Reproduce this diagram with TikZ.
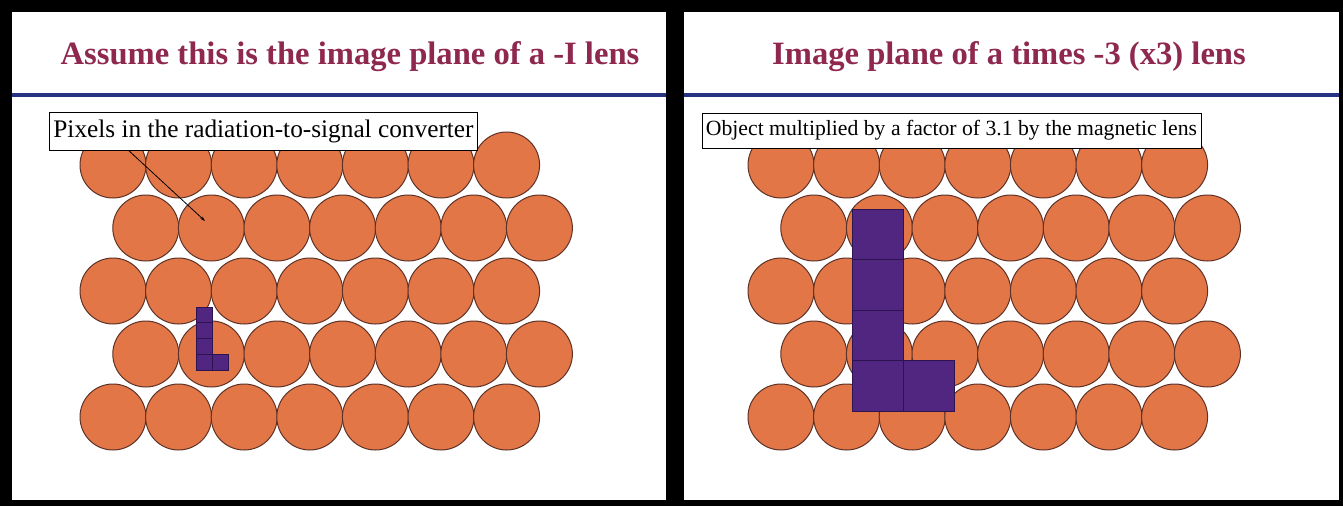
\documentclass[tikz,border=0pt]{standalone}
\usepackage{fontspec}
\setmainfont{Liberation Serif}
\usetikzlibrary{arrows.meta}
\definecolor{titlered}{RGB}{142,40,78}
\definecolor{rulecol}{RGB}{40,50,130}
\definecolor{pixfill}{RGB}{226,118,70}
\definecolor{pixedge}{RGB}{95,50,40}
\definecolor{lfill}{RGB}{80,38,128}
\definecolor{ledge}{RGB}{45,20,80}
\tikzset{
  pixel/.style={circle, draw=pixedge, fill=pixfill, line width=1pt, minimum size=66pt, inner sep=0pt},
  titletext/.style={text=titlered, font=\fontsize{32.6}{36}\selectfont\bfseries, inner sep=0pt},
  labelbox/.style={draw=black, fill=white, line width=0.8pt, inner xsep=4pt, inner ysep=0pt, align=center},
  lsq/.style={draw=ledge, fill=lfill, line width=0.7pt},
  bluerule/.style={draw=rulecol, line width=3.4pt}
}
\begin{document}
\begin{tikzpicture}[x=1pt,y=-1pt]
\useasboundingbox (0,0) rectangle (1343,506);
\fill[black] (0,0) rectangle (1343,506);
\fill[white] (12,12) rectangle (666,500);
\fill[white] (684,12) rectangle (1339,500);
% titles
\node[titletext] (t1) at (350,57) {Assume this is the image plane of a -I lens};
\node[titletext] (t2) at (1009,57) {Image plane of a times -3 (x3) lens};
\draw[bluerule] (12,95) -- (666,95);
\draw[bluerule] (684,95) -- (1339,95);
% pixels
\foreach \ox/\nm in {113/L,781/R}{
  \foreach \r/\yy/\sh in {1/165/0,2/228/1,3/291/0,4/354/1,5/417/0}{
    \foreach \k in {0,...,6}{
      \node[pixel] (p\nm\r\k) at ({\ox+\sh*32.8+\k*65.6},\yy) {};
    }
  }
}
% left L
\foreach \j in {0,...,3}{
  \draw[lsq] (196,{307+\j*15.75}) rectangle (212,{307+(\j+1)*15.75});
}
\draw[lsq] (212,354.25) rectangle (228,370);
% right L
\foreach \j in {0,...,3}{
  \draw[lsq] (852,{209+\j*50.5}) rectangle (903,{209+(\j+1)*50.5});
}
\draw[lsq] (903,360.5) rectangle (954,411);
% labels
\node[labelbox, font=\fontsize{25.3}{27}\selectfont, minimum height=38pt] (lab1) at (263.5,131) {Pixels in the radiation-to-signal converter};
\node[labelbox, font=\fontsize{21.7}{23}\selectfont, minimum height=35pt] (lab2) at (951.5,130.5) {Object multiplied by a factor of 3.1 by the magnetic lens};
\coordinate (tip) at (205,221);
\draw[line width=0.8pt, -{Stealth[length=5pt,width=3pt]}] ([xshift=-135pt]lab1.south) -- (tip);
\end{tikzpicture}
\end{document}
